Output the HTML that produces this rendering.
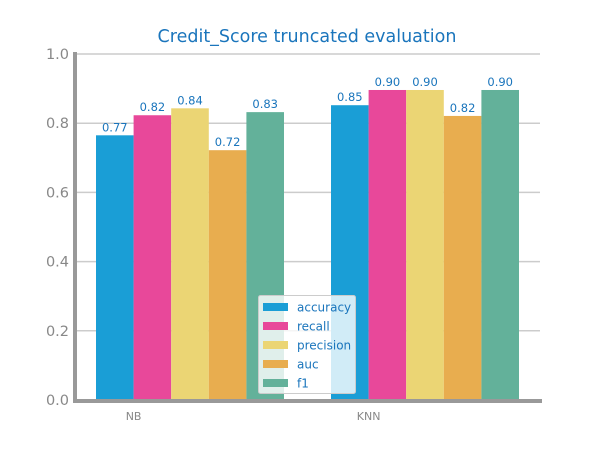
<!DOCTYPE html>
<html><head><meta charset="utf-8"><style>
body{margin:0;background:#fff;}
svg{display:block;font-family:"DejaVu Sans","Liberation Sans",sans-serif;}
</style></head><body>
<svg id="chart" width="600" height="450">
<text x="307" y="42" text-anchor="middle" font-size="17.5" fill="#1a75bc">Credit_Score truncated evaluation</text>
<g id="grid"></g><g id="bars"></g><g id="labels"></g>
<rect x="73" y="52" width="4" height="350" fill="#999"/>
<rect x="73" y="399" width="469" height="4" fill="#999"/>
<g id="legend"></g>
</svg>
<script>
const categories=["NB","KNN"];
const seriesNames=["accuracy","recall","precision","auc","f1"];
const colors=["#1a9ed6","#e8489a","#ebd574","#e8ad4f","#63b19a"];
const nbValues=[0.765,0.823,0.843,0.722,0.832];
const knnValues=[0.852,0.896,0.896,0.821,0.896];
const valueLabels=[["0.77","0.82","0.84","0.72","0.83"],["0.85","0.90","0.90","0.82","0.90"]];
const yTicks=[0,0.2,0.4,0.6,0.8,1.0];
const values=[nbValues,knnValues];
const NS="http://www.w3.org/2000/svg";
const y=v=>400-v*346;
const groupStart=[96,331], bw=37.6;
function mk(t,a,p){const e=document.createElementNS(NS,t);for(const k in a)e.setAttribute(k,a[k]);p.appendChild(e);return e;}
const grid=document.getElementById('grid');
yTicks.forEach(t=>{
  if(t>0){const l=mk('line',{x1:77,x2:540,y1:y(t),y2:y(t),stroke:'#ccc','stroke-width':1.5},grid);
  
  }
  const tx=mk('text',{x:69,y:y(t)+5,'text-anchor':'end','font-size':14.5,fill:'#888'},grid);
  tx.textContent=t.toFixed(1);
  
  
});
const bars=document.getElementById('bars'),labels=document.getElementById('labels');
categories.forEach((c,gi)=>{
  values[gi].forEach((v,si)=>{
    const x=groupStart[gi]+si*bw;
    const r=mk('rect',{x:x,y:y(v),width:bw,height:400-y(v),fill:colors[si]},bars);
    
    
    const t=mk('text',{x:x+bw/2,y:y(v)-4,'text-anchor':'middle','font-size':11.5,fill:'#1a75bc'},labels);
    t.textContent=valueLabels[gi][si];
    
    
  });
  const xt=mk('text',{x:groupStart[gi]+bw,y:420,'text-anchor':'middle','font-size':11,fill:'#888'},labels);
  xt.textContent=c;
  
  
});
const lg=document.getElementById('legend');
const box=mk('rect',{x:258.5,y:295.5,width:97,height:98,rx:2,fill:'rgba(255,255,255,0.8)',stroke:'#ccc'},lg);


seriesNames.forEach((n,i)=>{
  const yy=307+i*19;
  const m=mk('rect',{x:263,y:yy-4,width:25,height:8,fill:colors[i]},lg);
  
  
  const t=mk('text',{x:297,y:yy+4.5,'font-size':12,fill:'#1a75bc'},lg);
  t.textContent=n;
  
  
});
</script>
</body></html>
